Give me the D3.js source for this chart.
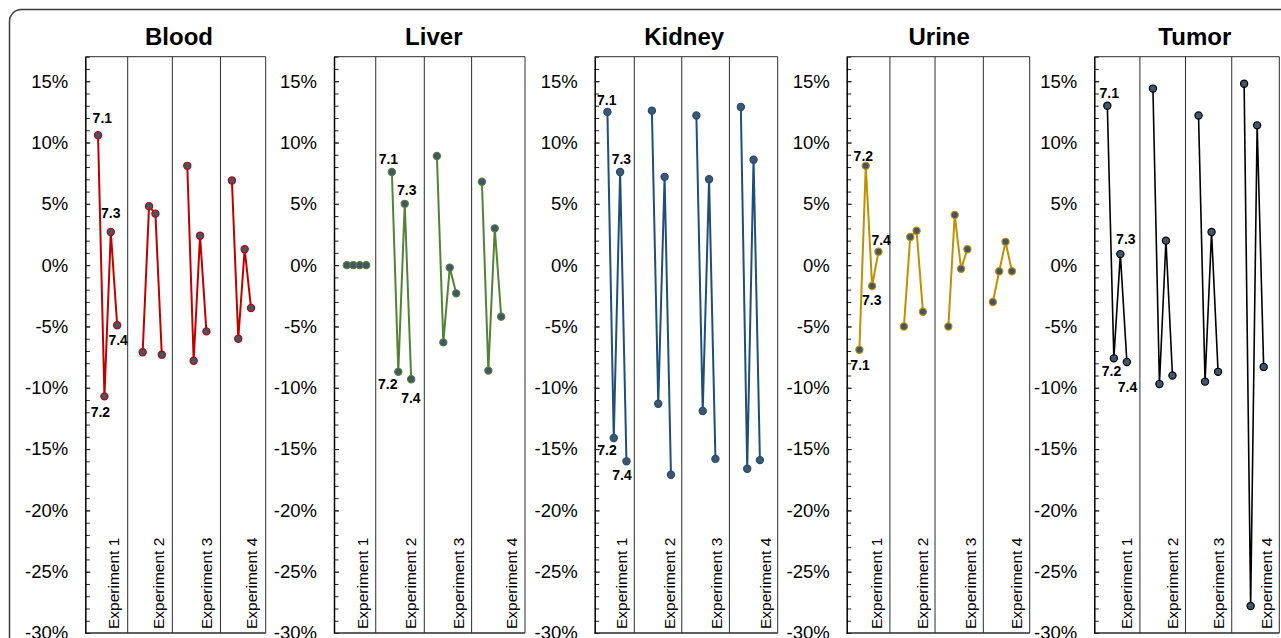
<!DOCTYPE html>
<html>
<head>
<meta charset="utf-8">
<script src="https://cdn.jsdelivr.net/npm/d3@7"></script>
<style>
  body { margin: 0; background: #fff; }
  svg { display: block; font-family: "Liberation Sans", Arial, Helvetica, sans-serif; }
</style>
</head>
<body>
<svg id="chart" width="1281" height="638"></svg>
<script>
// ---- data -------------------------------------------------------------
const tissues = ["Blood", "Liver", "Kidney", "Urine", "Tumor"];
const experiments = ["Experiment 1", "Experiment 2", "Experiment 3", "Experiment 4"];
const sampleIds = ["7.1", "7.2", "7.3", "7.4"];

// percent change, one row per experiment, one value per sample (7.1 .. 7.4)
const bloodValues = [
  [10.6, -10.7, 2.7, -4.9],
  [-7.1, 4.8, 4.2, -7.3],
  [8.1, -7.8, 2.4, -5.4],
  [6.9, -6.0, 1.3, -3.5]
];
const liverValues = [
  [0, 0, 0, 0],
  [7.6, -8.7, 5.0, -9.3],
  [8.9, -6.3, -0.2, -2.3],
  [6.8, -8.6, 3.0, -4.2]
];
const kidneyValues = [
  [12.5, -14.1, 7.6, -16.0],
  [12.6, -11.3, 7.2, -17.1],
  [12.2, -11.9, 7.0, -15.8],
  [12.9, -16.6, 8.6, -15.9]
];
const urineValues = [
  [-6.9, 8.1, -1.7, 1.1],
  [-5.0, 2.3, 2.8, -3.8],
  [-5.0, 4.1, -0.3, 1.3],
  [-3.0, -0.5, 1.9, -0.5]
];
const tumorValues = [
  [13.0, -7.6, 0.9, -7.9],
  [14.4, -9.7, 2.0, -9.0],
  [12.2, -9.5, 2.7, -8.7],
  [14.8, -27.8, 11.4, -8.3]
];
const yTickValues = [15, 10, 5, 0, -5, -10, -15, -20, -25, -30];
const yDomain = [-30, 17];

// ---- styling / layout ---------------------------------------------------
const seriesColors = ["#c00000", "#548235", "#1f4e79", "#bf9000", "#000000"];
const lineWidths = [2, 2, 2, 2, 1.6];
const markerFill = "#44546a";

const plotTop = 56.7, plotBottom = 633;
const panelLeft = [85.3, 334, 594.7, 846.7, 1094.3];
const panelWidth = [180.4, 191, 183, 183, 185];
const slotSpan = [28.3, 29.7, 28.8, 28.8, 28.4];          // x extent in point slots
const dividerSlots = [
  [6.65, 13.65, 21.2],
  [6.49, 14.04, 21.4],
  [6.23, 13.7, 21.2],
  [6.8, 13.9, 21.5],
  [7.0, 14.0, 21.1]
];
const titleShift = [3.5, 4.3, -2, 1, 8];
const labelledGroup = [0, 1, 0, 0, 0];                     // experiment carrying the sample labels
const labelOffsets = [                                       // [dx, dy] from the marker, per sample
  [[4.3, -12], [-4, 20.6], [0, -14.3], [1, 19.3]],
  [[-3.5, -8.3], [-10.5, 17], [2, -8.7], [-0.3, 24]],
  [[-0.6, -7.3], [-6.7, 16.7], [1.3, -8], [-4.4, 18.3]],
  [[0.7, 20.3], [-2.4, -5], [-0.3, 19.3], [2.7, -7]],
  [[2, -7.7], [-2.3, 17.7], [5.5, -10.3], [0.6, 30]]
];
const expLabelGap = [8.3, 8, 7, 7.5, 7.5];

const allValues = [bloodValues, liverValues, kidneyValues, urineValues, tumorValues];

const svg = d3.select("#chart");

// outer rounded frame (continues past the right and bottom edges)
svg.append("rect")
  .attr("x", 9.5).attr("y", 9.5)
  .attr("width", 1300).attr("height", 700)
  .attr("rx", 12).attr("ry", 12)
  .attr("fill", "none").attr("stroke", "#3a3a3a").attr("stroke-width", 1.5);

const y = d3.scaleLinear().domain(yDomain).range([plotBottom, plotTop]);
const slotOf = (g, i) => 2 + 7 * g + i;

tissues.forEach((tissue, p) => {
  const x = d3.scaleLinear().domain([0, slotSpan[p]]).range([0, panelWidth[p]]);
  const g = svg.append("g").attr("transform", `translate(${panelLeft[p]},0)`);
  const w = panelWidth[p];

  // title
  g.append("text")
    .attr("x", w / 2 + titleShift[p]).attr("y", 44.5)
    .attr("text-anchor", "middle")
    .attr("font-size", 24).attr("font-weight", "bold").attr("fill", "#000")
    .text(tissue);

  // frame: top, right, bottom, dividers
  const frame = g.append("g").attr("stroke", "#2b2b2b").attr("stroke-width", 1).attr("fill", "none");
  frame.append("line").attr("x1", 0).attr("x2", w).attr("y1", plotTop).attr("y2", plotTop);
  frame.append("line").attr("x1", 0).attr("x2", w).attr("y1", plotBottom).attr("y2", plotBottom).attr("stroke-width", 1.5);
  frame.append("line").attr("x1", w).attr("x2", w).attr("y1", plotTop).attr("y2", plotBottom);
  frame.selectAll("line.div").data(dividerSlots[p]).join("line")
    .attr("class", "div")
    .attr("x1", d => x(d)).attr("x2", d => x(d))
    .attr("y1", plotTop).attr("y2", plotBottom);

  // minor ticks every 1%
  const minor = d3.axisLeft(y).tickValues(d3.range(yDomain[0], yDomain[1] + 1, 1))
    .tickSizeInner(-4.5).tickSizeOuter(0).tickFormat("");
  g.append("g").call(minor).call(s => s.select(".domain").remove())
    .selectAll("line").attr("stroke", "#222");

  // major axis with labels
  const major = d3.axisLeft(y).tickValues(yTickValues)
    .tickSizeInner(-5).tickSizeOuter(0).tickPadding(17)
    .tickFormat(d => d + "%");
  const ax = g.append("g").call(major);
  ax.select(".domain").attr("stroke", "#000").attr("stroke-width", 1.5);
  ax.selectAll(".tick line").attr("stroke", "#222");
  ax.selectAll(".tick text")
    .attr("font-size", 18.5).attr("fill", "#000")
    .attr("font-family", "\"Liberation Sans\", Arial, sans-serif");

  // experiment labels, reading upward from the bottom, at the right side of each column
  const colRight = dividerSlots[p].concat([slotSpan[p]]);
  g.selectAll("text.exp").data(experiments).join("text")
    .attr("class", "exp")
    .attr("transform", (d, k) => `translate(${x(colRight[k]) - expLabelGap[p]},629) rotate(-90)`)
    .attr("text-anchor", "start")
    .attr("font-size", 15.5).attr("fill", "#000")
    .text(d => d);

  // one polyline per experiment
  const line = d3.line().x(d => x(d.s)).y(d => y(d.v));
  const groups = allValues[p].map((row, gi) =>
    row.map((v, i) => ({ s: slotOf(gi, i), v, id: sampleIds[i], g: gi, i })));

  g.selectAll("path.series").data(groups).join("path")
    .attr("class", "series")
    .attr("d", line)
    .attr("fill", "none")
    .attr("stroke", seriesColors[p])
    .attr("stroke-width", lineWidths[p])
    .attr("stroke-linejoin", "round");

  g.selectAll("circle.pt").data(groups.flat()).join("circle")
    .attr("class", "pt")
    .attr("cx", d => x(d.s)).attr("cy", d => y(d.v))
    .attr("r", 3.6)
    .attr("fill", markerFill)
    .attr("stroke", seriesColors[p])
    .attr("stroke-width", 1.2);

  // sample labels on one experiment
  const labelled = groups[labelledGroup[p]];
  g.selectAll("text.lbl").data(labelled).join("text")
    .attr("class", "lbl")
    .attr("x", d => x(d.s) + labelOffsets[p][d.i][0])
    .attr("y", d => y(d.v) + labelOffsets[p][d.i][1])
    .attr("text-anchor", "middle")
    .attr("font-size", 14).attr("font-weight", "bold").attr("fill", "#000")
    .text(d => d.id);
});
</script>
</body>
</html>
